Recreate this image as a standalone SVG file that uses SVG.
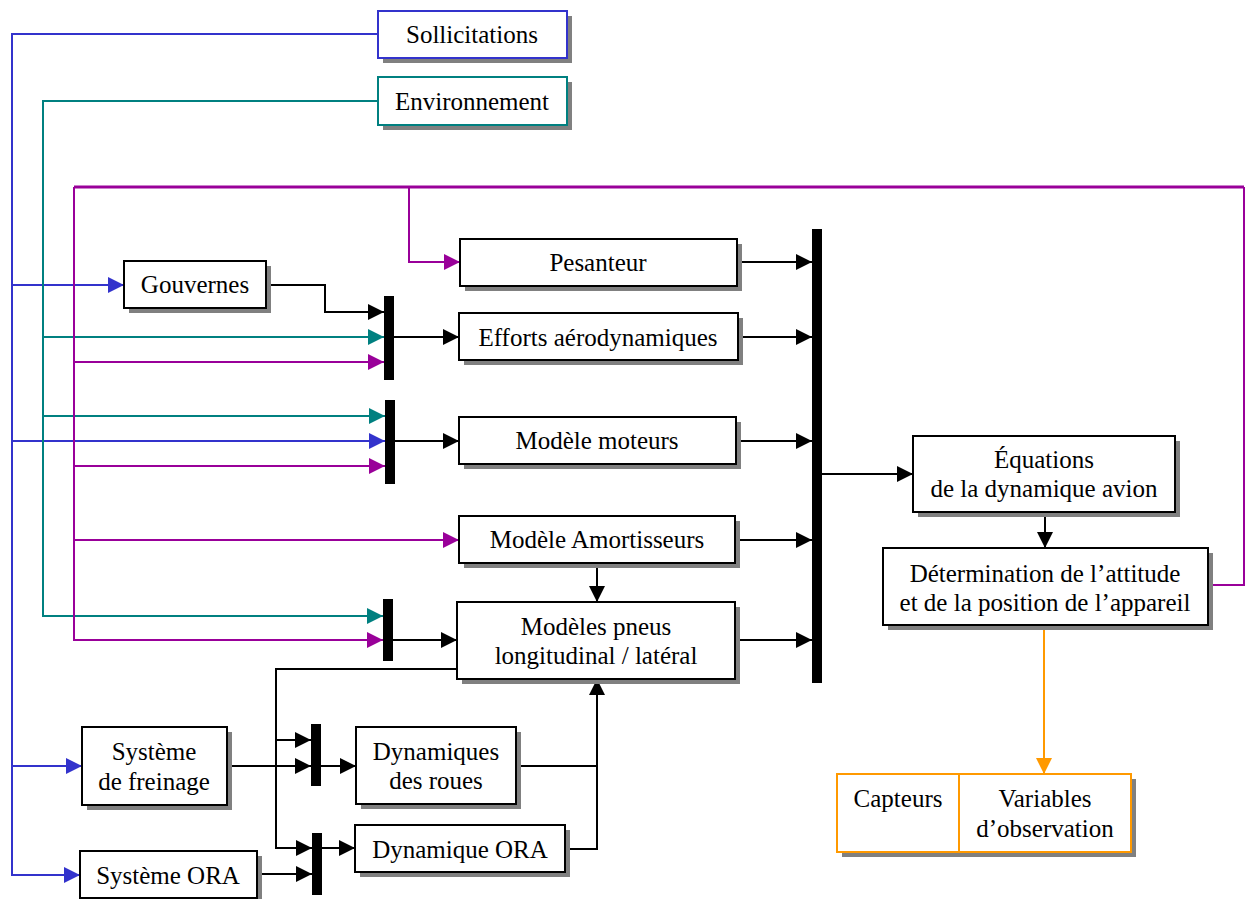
<svg xmlns="http://www.w3.org/2000/svg" width="1245" height="899" viewBox="0 0 1245 899">
<defs>
<marker id="aK" markerUnits="userSpaceOnUse" markerWidth="16" markerHeight="16" refX="16" refY="8" orient="auto"><path d="M0,0 L16,8 L0,16 z" style="fill:#000;stroke:none"/></marker>
<marker id="aB" markerUnits="userSpaceOnUse" markerWidth="16" markerHeight="16" refX="16" refY="8" orient="auto"><path d="M0,0 L16,8 L0,16 z" style="fill:#3333CC;stroke:none"/></marker>
<marker id="aT" markerUnits="userSpaceOnUse" markerWidth="16" markerHeight="16" refX="16" refY="8" orient="auto"><path d="M0,0 L16,8 L0,16 z" style="fill:#008080;stroke:none"/></marker>
<marker id="aP" markerUnits="userSpaceOnUse" markerWidth="16" markerHeight="16" refX="16" refY="8" orient="auto"><path d="M0,0 L16,8 L0,16 z" style="fill:#990099;stroke:none"/></marker>
<marker id="aO" markerUnits="userSpaceOnUse" markerWidth="16" markerHeight="16" refX="16" refY="8" orient="auto"><path d="M0,0 L16,8 L0,16 z" style="fill:#FF9900;stroke:none"/></marker>
</defs>
<style>
text{font-family:"Liberation Serif","Times New Roman",serif;font-size:25px;fill:#000;text-anchor:middle}
.sh{fill:#808080}
.box{fill:#fff;stroke:#000;stroke-width:2}
.bar{fill:#000}
.k,.b,.t,.p,.o{fill:none;stroke-width:2}
.k{stroke:#000}
.b{stroke:#3333CC}
.t{stroke:#008080}
.p{stroke:#990099}
.o{stroke:#FF9900}
</style>
<rect width="1245" height="899" fill="#fff"/>

<g id="connectors">
<path class="b" d="M378,34 H12 V875 H80" marker-end="url(#aB)"/>
<path class="b" d="M12,285 H124" marker-end="url(#aB)"/>
<path class="b" d="M12,441 H385" marker-end="url(#aB)"/>
<path class="b" d="M12,766 H82" marker-end="url(#aB)"/>
<path class="t" d="M378,101 H43 V616 H383" marker-end="url(#aT)"/>
<path class="t" d="M43,337 H384" marker-end="url(#aT)"/>
<path class="t" d="M43,416 H385" marker-end="url(#aT)"/>
<path class="p" d="M1208,585 H1244 V187"/>
<path class="p" d="M1244,187 H74" style="stroke-width:3"/>
<path class="p" d="M74,187 V640 H383" marker-end="url(#aP)"/>
<path class="p" d="M409,187 V262 H460" marker-end="url(#aP)"/>
<path class="p" d="M74,362 H384" marker-end="url(#aP)"/>
<path class="p" d="M74,466 H385" marker-end="url(#aP)"/>
<path class="p" d="M74,540 H459" marker-end="url(#aP)"/>
<path class="k" d="M266,285 H325 V312 H384" marker-end="url(#aK)"/>
<path class="k" d="M394,337 H459" marker-end="url(#aK)"/>
<path class="k" d="M395,441 H459" marker-end="url(#aK)"/>
<path class="k" d="M393,640 H457" marker-end="url(#aK)"/>
<path class="k" d="M737,262 H812" marker-end="url(#aK)"/>
<path class="k" d="M738,337 H812" marker-end="url(#aK)"/>
<path class="k" d="M736,441 H812" marker-end="url(#aK)"/>
<path class="k" d="M735,540 H812" marker-end="url(#aK)"/>
<path class="k" d="M735,640 H812" marker-end="url(#aK)"/>
<path class="k" d="M822,474 H913" marker-end="url(#aK)"/>
<path class="k" d="M1045,512 V548" marker-end="url(#aK)"/>
<path class="k" d="M597,563 V602" marker-end="url(#aK)"/>
<path class="k" d="M457,669 H276 V848 H312" marker-end="url(#aK)"/>
<path class="k" d="M276,740 H311" marker-end="url(#aK)"/>
<path class="k" d="M227,766 H311" marker-end="url(#aK)"/>
<path class="k" d="M321,766 H356" marker-end="url(#aK)"/>
<path class="k" d="M322,848 H355" marker-end="url(#aK)"/>
<path class="k" d="M257,874 H312" marker-end="url(#aK)"/>
<path class="k" d="M565,849 H597 V679" marker-end="url(#aK)"/>
<path class="k" d="M516,766 H597"/>
<path class="o" d="M1044,625 V774" marker-end="url(#aO)"/>
</g>

<g id="bars">
<rect class="bar" x="384" y="296" width="10" height="84"/>
<rect class="bar" x="385" y="400" width="10" height="84"/>
<rect class="bar" x="383" y="599" width="10" height="62"/>
<rect class="bar" x="311" y="724" width="10" height="62"/>
<rect class="bar" x="312" y="833" width="10" height="62"/>
<rect class="bar" x="812" y="229" width="10" height="454"/>
</g>

<g id="sollicitations">
<rect class="sh" x="383" y="16" width="189" height="47"/>
<rect class="box" x="378" y="11" width="189" height="47" style="stroke:#3333CC"/>
<text x="472" y="43">Sollicitations</text>
</g>
<g id="environnement">
<rect class="sh" x="383" y="82" width="189" height="48"/>
<rect class="box" x="378" y="77" width="189" height="48" style="stroke:#008080"/>
<text x="472" y="110">Environnement</text>
</g>
<g id="gouvernes">
<rect class="sh" x="129" y="266" width="142" height="47"/>
<rect class="box" x="124" y="261" width="142" height="47"/>
<text x="195" y="293">Gouvernes</text>
</g>
<g id="pesanteur">
<rect class="sh" x="465" y="244" width="277" height="47"/>
<rect class="box" x="460" y="239" width="277" height="47"/>
<text x="598" y="271">Pesanteur</text>
</g>
<g id="efforts">
<rect class="sh" x="464" y="318" width="279" height="47"/>
<rect class="box" x="459" y="313" width="279" height="47"/>
<text x="598" y="346">Efforts aérodynamiques</text>
</g>
<g id="moteurs">
<rect class="sh" x="464" y="422" width="277" height="47"/>
<rect class="box" x="459" y="417" width="277" height="47"/>
<text x="597" y="449">Modèle moteurs</text>
</g>
<g id="amortisseurs">
<rect class="sh" x="464" y="521" width="276" height="47"/>
<rect class="box" x="459" y="516" width="276" height="47"/>
<text x="597" y="548">Modèle Amortisseurs</text>
</g>
<g id="pneus">
<rect class="sh" x="462" y="607" width="278" height="77"/>
<rect class="box" x="457" y="602" width="278" height="77"/>
<text x="596" y="635">Modèles pneus</text>
<text x="596" y="664">longitudinal / latéral</text>
</g>
<g id="freinage">
<rect class="sh" x="87" y="732" width="145" height="78"/>
<rect class="box" x="82" y="727" width="145" height="78"/>
<text x="154" y="760">Système</text>
<text x="154" y="790">de freinage</text>
</g>
<g id="roues">
<rect class="sh" x="361" y="732" width="160" height="77"/>
<rect class="box" x="356" y="727" width="160" height="77"/>
<text x="436" y="760">Dynamiques</text>
<text x="436" y="789">des roues</text>
</g>
<g id="dynamique-ora">
<rect class="sh" x="360" y="830" width="210" height="47"/>
<rect class="box" x="355" y="825" width="210" height="47"/>
<text x="460" y="858">Dynamique ORA</text>
</g>
<g id="systeme-ora">
<rect class="sh" x="85" y="856" width="177" height="47"/>
<rect class="box" x="80" y="851" width="177" height="47"/>
<text x="168" y="884">Système ORA</text>
</g>
<g id="equations">
<rect class="sh" x="918" y="441" width="262" height="76"/>
<rect class="box" x="913" y="436" width="262" height="76"/>
<text x="1044" y="468">Équations</text>
<text x="1044" y="497">de la dynamique avion</text>
</g>
<g id="determination">
<rect class="sh" x="888" y="553" width="325" height="77"/>
<rect class="box" x="883" y="548" width="325" height="77"/>
<text x="1045" y="582">Détermination de l’attitude</text>
<text x="1045" y="611">et de la position de l’appareil</text>
</g>
<g id="capteurs">
<rect class="sh" x="842" y="779" width="294" height="78"/>
<rect class="box" x="837" y="774" width="294" height="78" style="stroke:#FF9900"/>
<path class="o" d="M959,774 V852"/>
<text x="898" y="807">Capteurs</text>
<text x="1045" y="807">Variables</text>
<text x="1045" y="837">d’observation</text>
</g>
</svg>
